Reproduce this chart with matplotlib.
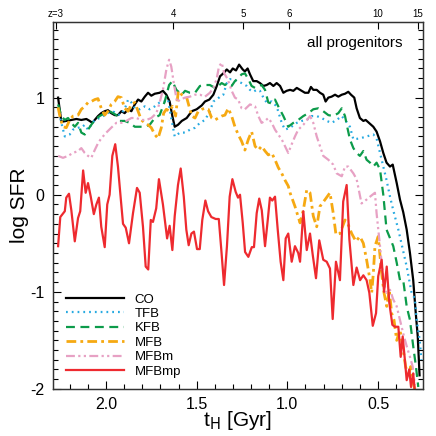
import matplotlib
matplotlib.use("Agg")
import matplotlib.pyplot as plt
from matplotlib.ticker import MultipleLocator

plt.rcParams['font.family'] = ['Liberation Sans', 'DejaVu Sans']

# ---- data: lookback cosmic time t_H [Gyr] and log SFR for each run ----
t_co = [2.264, 2.246, 2.219, 2.191, 2.163, 2.136, 2.108, 2.090, 2.075, 2.062, 2.044, 2.026, 2.007,
        1.989, 1.971, 1.952, 1.934, 1.915, 1.897, 1.878, 1.860, 1.841, 1.823, 1.805, 1.786, 1.768,
        1.750, 1.731, 1.704, 1.686, 1.667, 1.649, 1.634, 1.621, 1.603, 1.582, 1.555, 1.527, 1.500,
        1.472, 1.454, 1.430, 1.408, 1.389, 1.371, 1.353, 1.334, 1.316, 1.301, 1.283, 1.266, 1.246,
        1.234, 1.219, 1.206, 1.188, 1.169, 1.151, 1.132, 1.114, 1.096, 1.077, 1.059, 1.040, 1.022,
        1.004, 0.985, 0.967, 0.948, 0.930, 0.903, 0.884, 0.870, 0.857, 0.838, 0.820, 0.802, 0.789,
        0.774, 0.756, 0.737, 0.719, 0.700, 0.682, 0.664, 0.649, 0.631, 0.618, 0.600, 0.581, 0.568,
        0.550, 0.526, 0.508, 0.489, 0.471, 0.453, 0.434, 0.419, 0.397, 0.379, 0.361, 0.342, 0.324,
        0.306, 0.292, 0.281, 0.271]
sfr_co = [1.00, 0.75, 0.76, 0.77, 0.78, 0.77, 0.78, 0.76, 0.74, 0.77, 0.81, 0.84, 0.86,
          0.87, 0.84, 0.82, 0.82, 0.86, 0.84, 0.88, 0.86, 0.93, 0.98, 0.96, 1.01, 1.05,
          1.02, 1.04, 1.05, 1.07, 1.03, 0.96, 0.81, 0.70, 0.72, 0.76, 0.79, 0.86, 0.88,
          0.92, 0.96, 0.98, 1.03, 1.12, 1.22, 1.25, 1.29, 1.26, 1.30, 1.28, 1.34, 1.29,
          1.27, 1.30, 1.24, 1.17, 1.17, 1.15, 1.12, 1.13, 1.15, 1.12, 1.15, 1.12, 1.05,
          1.07, 1.08, 1.07, 1.10, 1.08, 1.05, 1.05, 1.11, 1.08, 1.08, 1.05, 1.03, 0.96,
          1.00, 1.01, 1.03, 1.01, 1.03, 1.04, 1.06, 1.03, 1.00, 0.89, 0.79, 0.76, 0.77,
          0.74, 0.70, 0.65, 0.55, 0.43, 0.33, 0.29, 0.31, 0.12, -0.05, -0.18, -0.36, -0.60,
          -0.88, -1.22, -1.46, -1.86]

t_tfb = [2.264, 2.246, 2.227, 2.200, 2.182, 2.154, 2.136, 2.117, 2.099, 2.081, 2.062, 2.035, 2.016,
         1.989, 1.971, 1.952, 1.924, 1.897, 1.878, 1.860, 1.841, 1.814, 1.786, 1.759, 1.731, 1.704,
         1.676, 1.658, 1.640, 1.621, 1.592, 1.564, 1.537, 1.509, 1.482, 1.454, 1.427, 1.408, 1.390,
         1.371, 1.353, 1.334, 1.316, 1.298, 1.279, 1.252, 1.224, 1.206, 1.188, 1.169, 1.151, 1.132,
         1.114, 1.086, 1.059, 1.031, 1.013, 0.985, 0.948, 0.921, 0.893, 0.866, 0.838, 0.811, 0.783,
         0.756, 0.728, 0.700, 0.682, 0.655, 0.636, 0.600, 0.563, 0.526, 0.508, 0.489, 0.471, 0.453,
         0.434, 0.416, 0.388, 0.342, 0.315, 0.297, 0.287, 0.270, 0.261]
sfr_tfb = [0.90, 0.74, 0.60, 0.62, 0.67, 0.69, 0.69, 0.72, 0.67, 0.72, 0.77, 0.79, 0.81,
           0.84, 0.86, 0.85, 0.82, 0.88, 0.98, 0.95, 0.89, 0.88, 0.91, 0.88, 0.91, 0.95,
           0.96, 0.98, 0.79, 0.60, 0.64, 0.64, 0.67, 0.69, 0.74, 0.77, 0.86, 0.96, 0.98,
           1.01, 1.03, 1.15, 1.19, 1.19, 1.17, 1.15, 1.12, 1.08, 1.06, 1.08, 1.07, 1.00,
           0.95, 0.96, 0.91, 0.74, 0.67, 0.69, 0.74, 0.76, 0.77, 0.81, 0.81, 0.79, 0.76,
           0.74, 0.77, 0.81, 0.77, 0.70, 0.57, 0.58, 0.60, 0.62, 0.58, 0.43, 0.29, 0.15,
           -0.02, -0.16, -0.36, -0.74, -1.01, -1.07, -1.29, -1.50, -1.70]

t_kfb = [2.264, 2.246, 2.227, 2.209, 2.191, 2.172, 2.154, 2.136, 2.117, 2.099, 2.081, 2.062, 2.035,
         2.007, 1.980, 1.961, 1.943, 1.924, 1.897, 1.869, 1.841, 1.814, 1.786, 1.759, 1.731, 1.704,
         1.676, 1.652, 1.634, 1.612, 1.582, 1.564, 1.537, 1.509, 1.482, 1.454, 1.427, 1.399, 1.381,
         1.362, 1.344, 1.326, 1.307, 1.289, 1.271, 1.252, 1.234, 1.215, 1.197, 1.178, 1.142, 1.123,
         1.105, 1.086, 1.068, 1.050, 1.022, 0.995, 0.967, 0.940, 0.912, 0.884, 0.857, 0.829, 0.802,
         0.774, 0.747, 0.719, 0.700, 0.682, 0.670, 0.655, 0.636, 0.618, 0.600, 0.581, 0.563, 0.544,
         0.526, 0.508, 0.489, 0.471, 0.453, 0.416, 0.397, 0.379, 0.361, 0.342, 0.324, 0.306, 0.291,
         0.278]
sfr_kfb = [0.93, 0.81, 0.77, 0.79, 0.74, 0.70, 0.74, 0.64, 0.62, 0.67, 0.72, 0.77, 0.81,
           0.84, 0.86, 0.84, 0.82, 0.76, 0.76, 0.74, 0.70, 0.70, 0.70, 0.72, 0.79, 0.82,
           0.96, 1.13, 1.17, 1.08, 1.03, 1.07, 1.05, 1.05, 1.12, 1.13, 1.13, 1.10, 1.12,
           1.15, 1.13, 1.15, 1.12, 1.17, 1.20, 1.24, 1.25, 1.19, 1.12, 1.10, 1.13, 1.08,
           0.95, 0.94, 0.98, 0.91, 0.81, 0.70, 0.74, 0.77, 0.81, 0.84, 0.88, 0.89, 0.86,
           0.82, 0.81, 0.84, 0.89, 0.81, 0.70, 0.57, 0.48, 0.43, 0.40, 0.45, 0.36, 0.33,
           0.29, 0.33, 0.26, 0.00, -0.36, -0.53, -0.70, -0.88, -0.88, -1.15, -1.29, -1.56, -1.77,
           -1.98]

t_mfb = [2.264, 2.252, 2.237, 2.219, 2.200, 2.182, 2.154, 2.136, 2.117, 2.099, 2.081, 2.062, 2.044,
         2.026, 2.007, 1.989, 1.971, 1.952, 1.934, 1.915, 1.897, 1.878, 1.860, 1.841, 1.823, 1.805,
         1.786, 1.768, 1.750, 1.731, 1.713, 1.695, 1.682, 1.667, 1.649, 1.634, 1.616, 1.601, 1.582,
         1.555, 1.527, 1.509, 1.491, 1.472, 1.454, 1.436, 1.417, 1.399, 1.381, 1.362, 1.344, 1.326,
         1.307, 1.289, 1.271, 1.252, 1.234, 1.215, 1.197, 1.178, 1.160, 1.142, 1.123, 1.105, 1.086,
         1.068, 1.050, 1.031, 1.013, 0.995, 0.985, 0.958, 0.930, 0.912, 0.893, 0.875, 0.857, 0.838,
         0.820, 0.792, 0.765, 0.747, 0.732, 0.710, 0.682, 0.664, 0.645, 0.622, 0.600, 0.581, 0.563,
         0.544, 0.535, 0.526, 0.517, 0.499, 0.480, 0.467, 0.452, 0.438, 0.425, 0.412, 0.397, 0.379,
         0.361, 0.348, 0.333, 0.320, 0.306, 0.291]
sfr_mfb = [0.90, 0.79, 0.70, 0.69, 0.77, 0.81, 0.82, 0.88, 0.91, 0.95, 0.96, 0.98, 0.99,
           0.89, 0.82, 0.86, 0.93, 0.96, 1.01, 1.00, 0.89, 0.86, 0.93, 0.95, 0.86, 0.77,
           0.74, 0.72, 0.69, 0.62, 0.58, 0.69, 0.84, 0.88, 0.86, 0.91, 0.81, 1.07, 1.03,
           1.00, 0.81, 0.79, 0.86, 0.88, 0.89, 0.88, 0.79, 0.77, 0.79, 0.81, 0.82, 0.89,
           0.81, 0.70, 0.62, 0.55, 0.46, 0.57, 0.65, 0.50, 0.46, 0.50, 0.45, 0.41, 0.43,
           0.36, 0.28, 0.22, 0.15, 0.09, 0.02, -0.12, -0.29, -0.16, 0.05, 0.02, -0.22, -0.33,
           -0.12, -0.05, 0.02, -0.19, -0.41, -0.40, -0.26, -0.31, -0.40, -0.48, -0.43, -0.50, -0.67,
           -0.88, -1.01, -0.81, -0.53, -0.43, -0.81, -1.01, -1.15, -0.98, -1.22, -1.29, -1.50, -1.39,
           -1.60, -1.77, -1.87, -1.77, -1.94, -2.05]

t_mfbm = [2.264, 2.237, 2.209, 2.182, 2.154, 2.136, 2.117, 2.099, 2.081, 2.062, 2.044, 2.026, 1.998,
          1.971, 1.943, 1.915, 1.888, 1.860, 1.833, 1.805, 1.777, 1.750, 1.722, 1.704, 1.686, 1.667,
          1.652, 1.640, 1.626, 1.608, 1.592, 1.564, 1.537, 1.509, 1.482, 1.454, 1.427, 1.408, 1.390,
          1.377, 1.362, 1.348, 1.329, 1.307, 1.289, 1.271, 1.252, 1.234, 1.206, 1.178, 1.160, 1.142,
          1.123, 1.105, 1.086, 1.068, 1.050, 1.031, 1.013, 0.995, 0.976, 0.958, 0.940, 0.912, 0.875,
          0.857, 0.838, 0.820, 0.802, 0.774, 0.747, 0.728, 0.700, 0.682, 0.664, 0.636, 0.618, 0.591,
          0.563, 0.544, 0.517, 0.508, 0.489, 0.471, 0.453, 0.434, 0.416, 0.397, 0.379, 0.361, 0.342,
          0.324, 0.309, 0.297]
sfr_mfbm = [0.40, 0.38, 0.40, 0.43, 0.45, 0.48, 0.43, 0.40, 0.38, 0.46, 0.53, 0.58, 0.64,
            0.69, 0.74, 0.74, 0.76, 0.79, 0.79, 0.77, 0.77, 0.79, 0.84, 0.95, 1.08, 1.29,
            1.39, 1.32, 1.15, 0.95, 0.98, 1.00, 1.01, 1.03, 1.03, 1.01, 1.05, 1.10, 1.19,
            1.32, 1.36, 1.25, 1.19, 1.07, 1.00, 0.98, 0.89, 0.88, 0.93, 0.91, 0.81, 0.74,
            0.76, 0.79, 0.74, 0.67, 0.62, 0.57, 0.50, 0.43, 0.52, 0.60, 0.67, 0.72, 0.81,
            0.74, 0.60, 0.50, 0.40, 0.36, 0.31, 0.22, 0.19, 0.29, 0.29, 0.22, 0.16, -0.09,
            -0.05, -0.02, 0.02, -0.19, -0.53, -0.88, -1.01, -0.98, -1.08, -1.15, -1.29, -1.43, -1.56,
            -1.67, -1.77, -1.96]

t_mfbmp = [2.264, 2.252, 2.227, 2.219, 2.204, 2.191, 2.172, 2.154, 2.142, 2.126, 2.112, 2.099, 2.084,
           2.067, 2.053, 2.039, 2.026, 2.007, 1.993, 1.980, 1.965, 1.949, 1.934, 1.919, 1.906, 1.891,
           1.873, 1.851, 1.829, 1.814, 1.796, 1.781, 1.767, 1.753, 1.741, 1.723, 1.708, 1.686, 1.663,
           1.649, 1.634, 1.621, 1.603, 1.588, 1.571, 1.557, 1.544, 1.529, 1.515, 1.498, 1.483, 1.469,
           1.452, 1.437, 1.419, 1.395, 1.378, 1.364, 1.349, 1.333, 1.318, 1.303, 1.285, 1.272, 1.261,
           1.246, 1.233, 1.215, 1.196, 1.184, 1.169, 1.155, 1.141, 1.123, 1.108, 1.096, 1.083, 1.068,
           1.053, 1.037, 1.022, 1.009, 0.995, 0.976, 0.958, 0.940, 0.930, 0.912, 0.893, 0.875, 0.860,
           0.842, 0.824, 0.802, 0.783, 0.765, 0.750, 0.732, 0.710, 0.692, 0.673, 0.658, 0.636, 0.618,
           0.599, 0.581, 0.563, 0.548, 0.529, 0.511, 0.499, 0.480, 0.467, 0.452, 0.438, 0.421, 0.407,
           0.388, 0.375, 0.364, 0.351, 0.342, 0.328, 0.318, 0.306, 0.296]
sfr_mfbmp = [-0.53, -0.23, -0.17, -0.03, 0.01, -0.16, -0.48, -0.24, -0.17, 0.25, 0.02, 0.12, -0.02,
             -0.20, -0.10, -0.03, -0.33, -0.54, -0.10, 0.00, 0.40, 0.52, 0.29, -0.03, -0.30, -0.34,
             -0.50, -0.19, 0.07, 0.02, -0.33, -0.74, -0.77, -0.26, -0.28, -0.14, 0.16, -0.10, -0.45,
             -0.32, -0.57, -0.22, 0.10, 0.27, -0.02, -0.36, -0.52, -0.40, -0.38, -0.56, -0.56, -0.26,
             -0.06, -0.17, -0.23, -0.25, -0.25, -0.57, -0.93, -0.53, -0.02, 0.16, 0.03, -0.03, 0.00,
             -0.29, -0.59, -0.64, -0.54, -0.54, -0.19, -0.04, -0.16, -0.53, -0.26, -0.03, -0.06, -0.02,
             -0.36, -0.69, -0.88, -0.45, -0.40, -0.69, -0.53, -0.60, -0.69, -0.17, -0.57, -0.40, -0.62,
             -0.86, -0.47, -0.67, -0.69, -0.76, -1.28, -0.69, -0.88, -0.07, 0.10, -0.46, -0.93, -0.75,
             -0.88, -0.83, -0.88, -1.01, -1.35, -1.22, -0.84, -0.67, -1.00, -0.74, -1.11, -1.34, -1.36,
             -1.36, -1.67, -1.46, -1.72, -1.91, -1.80, -1.98, -1.84, -2.05]

z_labels = ['z=3', '4', '5', '6', '10', '15']
z_ticks_t = [2.275, 1.630, 1.243, 0.989, 0.502, 0.281]

# ---- figure ----
fig = plt.figure(figsize=(4.36, 4.36), dpi=100)
ax = fig.add_axes([0.1216, 0.108, 0.8486, 0.8418])

lw = 1.6
ax.plot(t_co, sfr_co, color='black', lw=lw, label='CO')
ax.plot(t_tfb, sfr_tfb, color='#27AAE1', lw=lw, ls=(0, (0.8, 1.8)), label='TFB')
ax.plot(t_kfb, sfr_kfb, color='#0C9B4A', lw=lw, ls=(0, (4, 2.5)), label='KFB')
ax.plot(t_mfb, sfr_mfb, color='#F6A912', lw=lw + 0.4, ls=(0, (3.5, 1.5, 1, 1.5)), label='MFB')
ax.plot(t_mfbm, sfr_mfbm, color='#E7A1C4', lw=lw, ls=(0, (4, 1.5, 1, 1.5, 1, 1.5)), label='MFBm')
ax.plot(t_mfbmp, sfr_mfbmp, color='#EE2A2F', lw=lw, label='MFBmp')

ax.set_xlim(2.292, 0.252)
ax.set_ylim(-2.0, 1.78)

ax.xaxis.set_major_locator(MultipleLocator(0.5))
ax.xaxis.set_minor_locator(MultipleLocator(0.1))
ax.yaxis.set_major_locator(MultipleLocator(1))
ax.yaxis.set_minor_locator(MultipleLocator(0.1))
ax.set_xticks([2.0, 1.5, 1.0, 0.5])
ax.set_xticklabels(['2.0', '1.5', '1.0', '0.5'])
ax.set_yticks([-2, -1, 0, 1])
ax.set_yticklabels(['-2', '-1', '0', '1'])
ax.tick_params(which='both', direction='in', top=False, right=True, labelsize=11.5, pad=6)
ax.tick_params(which='major', length=6, width=0.8)
ax.tick_params(which='minor', length=3.5, width=0.8)

ax.set_xlabel(r't$_\mathrm{H}$ [Gyr]', fontsize=15, labelpad=-2)
ax.set_ylabel('log SFR', fontsize=15, labelpad=1)

# redshift axis on top
axt = ax.twiny()
axt.set_xlim(ax.get_xlim())
axt.set_xticks(z_ticks_t)
axt.set_xticklabels(z_labels)
axt.xaxis.set_minor_locator(plt.NullLocator())
axt.tick_params(direction='in', length=5, width=0.8, labelsize=7, pad=2)

for a in (ax, axt):
    for s in a.spines.values():
        s.set_linewidth(0.9)
        s.set_color('#333333')

ax.text(0.945, 0.943, 'all progenitors', transform=ax.transAxes, ha='right', va='center', fontsize=11)

ax.legend(loc='lower left', bbox_to_anchor=(0.035, 0.03), frameon=False, fontsize=9.5,
          handlelength=4.4, handletextpad=0.8, labelspacing=0.17, borderpad=0, borderaxespad=0)

fig.savefig('out.png', dpi=100)
